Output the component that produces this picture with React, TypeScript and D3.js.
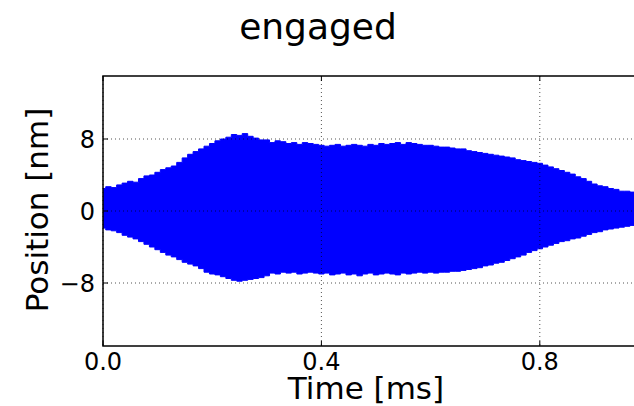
import * as d3 from "d3";

// time axis samples (ms) and the envelope of the oscillation (nm)
const TIME = [
  0.00, 0.01, 0.02, 0.03, 0.04, 0.05, 0.06, 0.07, 0.08, 0.09,
  0.10, 0.11, 0.12, 0.13, 0.14, 0.15, 0.16, 0.17, 0.18, 0.19,
  0.20, 0.21, 0.22, 0.23, 0.24, 0.25, 0.26, 0.27, 0.28, 0.29,
  0.30, 0.31, 0.32, 0.33, 0.34, 0.35, 0.36, 0.37, 0.38, 0.39,
  0.40, 0.41, 0.42, 0.43, 0.44, 0.45, 0.46, 0.47, 0.48, 0.49,
  0.50, 0.51, 0.52, 0.53, 0.54, 0.55, 0.56, 0.57, 0.58, 0.59,
  0.60, 0.61, 0.62, 0.63, 0.64, 0.65, 0.66, 0.67, 0.68, 0.69,
  0.70, 0.71, 0.72, 0.73, 0.74, 0.75, 0.76, 0.77, 0.78, 0.79,
  0.80, 0.81, 0.82, 0.83, 0.84, 0.85, 0.86, 0.87, 0.88, 0.89,
  0.90, 0.91, 0.92, 0.93, 0.94, 0.95, 0.96, 0.97, 0.98, 0.99, 1.00,
];
const UPPER = [
  2.5, 2.7, 2.6, 2.9, 3.1, 3.3, 3.2, 3.6, 3.9, 4.0,
  4.3, 4.6, 4.8, 5.0, 5.4, 5.9, 6.3, 6.6, 6.9, 7.2,
  7.5, 7.8, 8.0, 8.2, 8.5, 8.4, 8.6, 8.3, 8.1, 7.9,
  7.9, 7.6, 7.8, 7.7, 7.5, 7.6, 7.4, 7.6, 7.5, 7.4,
  7.3, 7.2, 7.3, 7.4, 7.2, 7.3, 7.4, 7.3, 7.2, 7.4,
  7.3, 7.5, 7.4, 7.5, 7.6, 7.4, 7.6, 7.5, 7.4, 7.3,
  7.3, 7.2, 7.1, 7.1, 7.0, 6.9, 6.9, 6.7, 6.6, 6.5,
  6.4, 6.3, 6.2, 6.1, 6.0, 5.9, 5.7, 5.6, 5.5, 5.4,
  5.3, 5.1, 4.9, 4.7, 4.5, 4.3, 4.1, 3.8, 3.6, 3.3,
  3.0, 2.8, 2.7, 2.5, 2.4, 2.2, 2.2, 2.1, 2.0, 1.9, 1.8,
];
const LOWER = [
  -1.9, -2.1, -2.2, -2.4, -2.7, -2.9, -3.1, -3.4, -3.7, -4.0,
  -4.3, -4.6, -4.9, -5.1, -5.4, -5.7, -5.9, -6.1, -6.4, -6.8,
  -7.0, -7.1, -7.3, -7.5, -7.7, -7.8, -7.7, -7.6, -7.5, -7.4,
  -7.2, -6.9, -7.0, -6.8, -6.9, -6.8, -7.0, -6.9, -6.8, -6.9,
  -7.0, -6.9, -7.1, -7.0, -6.9, -7.1, -7.0, -7.2, -7.0, -6.9,
  -7.1, -7.0, -6.9, -7.0, -7.1, -6.9, -7.0, -6.9, -6.8, -6.9,
  -6.8, -6.9, -6.8, -6.8, -6.7, -6.7, -6.6, -6.5, -6.4, -6.3,
  -6.1, -6.0, -5.8, -5.7, -5.5, -5.3, -5.1, -4.9, -4.6, -4.4,
  -4.2, -4.0, -3.8, -3.6, -3.4, -3.3, -3.1, -3.0, -2.8, -2.6,
  -2.4, -2.3, -2.1, -2.0, -1.9, -1.8, -1.7, -1.6, -1.5, -1.5, -1.4,
];
const X_TICKS = [0.0, 0.4, 0.8];
const Y_TICKS = [-8, 0, 8];

const W = 634, H = 406;
const ML = 103, MT = 76, PW = 546, PH = 270;
const FONT = "DejaVu Sans, sans-serif";

export default function App() {
  const x = d3.scaleLinear().domain([0, 1]).range([ML, ML + PW]);
  const y = d3.scaleLinear().domain([-15, 15]).range([MT + PH, MT]);

  // step curve gives the ragged edge of the dense oscillation
  const area = d3.area<number>()
    .x((_, i) => x(TIME[i]))
    .y0((_, i) => y(LOWER[i]))
    .y1(d => y(d))
    .curve(d3.curveStep);

  return (
    <svg width={W} height={H} style={{ position: "fixed", left: 0, top: 0, background: "#fff" }}
      fontFamily={FONT}>
      <defs>
        <clipPath id="plot-clip">
          <rect x={ML} y={MT} width={PW} height={PH} />
        </clipPath>
      </defs>

      <text x={318} y={39} fontSize={36} textAnchor="middle" fill="#000">engaged</text>

      <g clipPath="url(#plot-clip)">
        <path d={area(UPPER) ?? ""} fill="#0000ff" stroke="#0000ff" strokeWidth={1} />
      </g>

      {/* grid drawn over the signal, as in the reference */}
      {X_TICKS.map(t => (
        <line key={"gx" + t} x1={x(t)} x2={x(t)} y1={MT} y2={MT + PH}
          stroke="#000" strokeWidth={0.9} strokeDasharray="1,3" opacity={0.75} />
      ))}
      {Y_TICKS.map(t => (
        <line key={"gy" + t} x1={ML} x2={ML + PW} y1={y(t)} y2={y(t)}
          stroke="#000" strokeWidth={0.9} strokeDasharray="1,3" opacity={0.75} />
      ))}

      {/* ticks point inward */}
      {X_TICKS.map(t => (
        <g key={"tx" + t}>
          <line x1={x(t)} x2={x(t)} y1={MT + PH} y2={MT + PH - 5} stroke="#000" strokeWidth={1} />
          <line x1={x(t)} x2={x(t)} y1={MT} y2={MT + 5} stroke="#000" strokeWidth={1} />
          <text x={x(t)} y={370} fontSize={24} textAnchor="middle" fill="#000">{t.toFixed(1)}</text>
        </g>
      ))}
      {Y_TICKS.map(t => (
        <g key={"ty" + t}>
          <line x1={ML} x2={ML + 5} y1={y(t)} y2={y(t)} stroke="#000" strokeWidth={1} />
          <text x={ML - 8} y={y(t)} dy="0.36em" fontSize={24} textAnchor="end" fill="#000">
            {t < 0 ? "\u2212" + Math.abs(t) : t}
          </text>
        </g>
      ))}

      <rect x={ML} y={MT} width={PW} height={PH} fill="none" stroke="#000" strokeWidth={1.5} />

      <text x={366} y={399} fontSize={31} textAnchor="middle" fill="#000">Time [ms]</text>
      <text transform={`translate(48,210) rotate(-90)`} fontSize={31} textAnchor="middle" fill="#000">
        Position [nm]
      </text>
    </svg>
  );
}
